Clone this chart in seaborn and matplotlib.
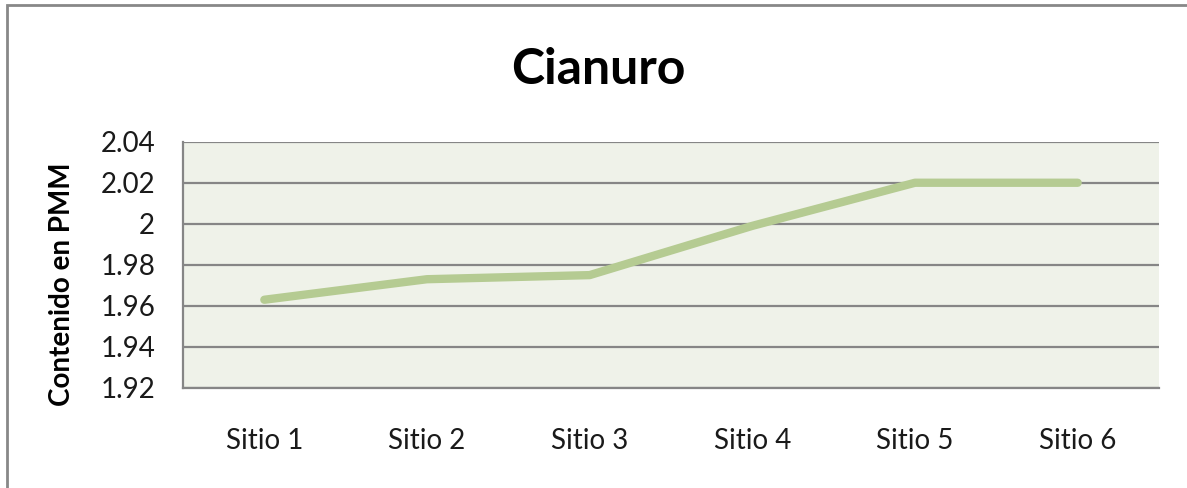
import matplotlib
matplotlib.use("Agg")
import matplotlib.pyplot as plt
from matplotlib.patches import Rectangle
import seaborn as sns
import pandas as pd

# Data
categories = ["Sitio 1", "Sitio 2", "Sitio 3", "Sitio 4", "Sitio 5", "Sitio 6"]
values = [1.963, 1.973, 1.975, 1.999, 2.020, 2.020]
y_ticks = [1.92, 1.94, 1.96, 1.98, 2.00, 2.02, 2.04]
y_tick_labels = ["1.92", "1.94", "1.96", "1.98", "2", "2.02", "2.04"]
title = "Cianuro"
y_label = "Contenido en PMM"

sns.set_theme(style="white")
plt.rcParams["font.family"] = ["Lato", "DejaVu Sans"]

W, H = 1187, 488
fig = plt.figure(figsize=(W / 100, H / 100), dpi=100)
fig.patch.set_facecolor("white")

left, right, top, bottom = 183, 1159, 141.7, 388
ax = fig.add_axes([left / W, 1 - bottom / H, (right - left) / W, (bottom - top) / H])
ax.set_facecolor("#EFF2E9")

df = pd.DataFrame({"Sitio": categories, "Valor": values})
sns.lineplot(data=df, x="Sitio", y="Valor", ax=ax, color="#B5CB92",
             linewidth=6.0, solid_capstyle="round", solid_joinstyle="round", zorder=3)

ax.set_xlim(-0.5, len(categories) - 0.5)
ax.set_ylim(y_ticks[0], y_ticks[-1])
ax.set_yticks(y_ticks)
ax.set_yticklabels(y_tick_labels)
ax.set_xticks(range(len(categories)))
ax.set_xticklabels(categories)

for y in y_ticks:
    ax.axhline(y, color="#868686", linewidth=1.6, zorder=2)

for s in ["top", "right"]:
    ax.spines[s].set_visible(False)
ax.spines["left"].set_color("#868686")
ax.spines["left"].set_linewidth(1.6)
ax.spines["bottom"].set_color("#868686")
ax.spines["bottom"].set_linewidth(1.6)

ax.tick_params(axis="y", length=0, pad=20, labelsize=20, labelcolor="#1a1a1a")
ax.tick_params(axis="x", length=0, pad=29, labelsize=20, labelcolor="#1a1a1a")
ax.set_xlabel("")
ax.set_ylabel("")

fig.text(598 / W, 1 - 70 / H, title, ha="center", va="center",
         fontsize=36, fontweight="bold", color="black")
fig.text(62 / W, 1 - 284 / H, y_label, ha="center", va="center",
         rotation=90, fontsize=20, fontweight="bold", color="black")

fig.patches.append(Rectangle((7 / W, -0.1), 1.2, (1 - 5 / H) + 0.1,
                             transform=fig.transFigure, fill=False,
                             edgecolor="#888888", linewidth=2.0))

fig.savefig("out.png", dpi=100)
